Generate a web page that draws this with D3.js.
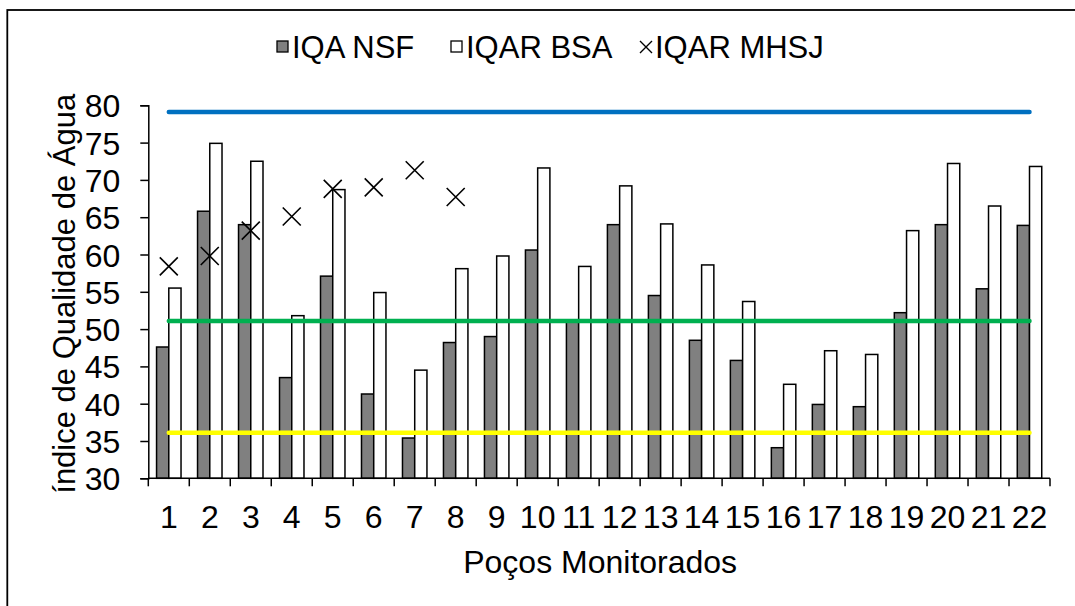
<!DOCTYPE html>
<html>
<head>
<meta charset="utf-8">
<script src="https://cdn.jsdelivr.net/npm/d3@7"></script>
<style>
  html, body { margin: 0; padding: 0; background: #fff; }
  svg { display: block; font-family: "Liberation Sans", Arial, sans-serif; }
</style>
</head>
<body>
<svg id="chart" width="1075" height="606"></svg>
<script>
// Poços monitorados (categorias do eixo X)
const pocos = ["1","2","3","4","5","6","7","8","9","10","11","12","13","14","15","16","17","18","19","20","21","22"];

// IQA NSF por poço
const iqaNsf = [47.6, 65.8, 64.0, 43.5, 57.1, 41.3, 35.4, 48.2, 49.0, 60.6, 51.2, 64.0,
                54.5, 48.5, 45.8, 34.1, 39.9, 39.6, 52.2, 64.0, 55.4, 63.9];

// IQAR BSA por poço
const iqarBsa = [55.5, 74.9, 72.5, 51.8, 68.7, 54.9, 44.5, 58.1, 59.8, 71.6, 58.4, 69.2,
                 64.1, 58.6, 53.7, 42.6, 47.1, 46.6, 63.2, 72.2, 66.5, 71.8];

// IQAR MHSJ (apenas os poços 1 a 8)
const iqarMhsj = [58.4, 59.8, 63.2, 65.1, 68.8, 69.0, 71.3, 67.7];

// Limites das faixas de classificação
const limites = [79.1, 51.1, 36.1];
const coresLimites = ["#0070C0", "#00B050", "#FFFF00"];

// Marcas do eixo Y
const ticksY = [30, 35, 40, 45, 50, 55, 60, 65, 70, 75, 80];

const legenda = ["IQA NSF", "IQAR BSA", "IQAR MHSJ"];

const svg = d3.select("#chart");
const FS = 32;            // tamanho da fonte dos eixos
const FS_LEG = 31;        // tamanho da fonte da legenda e do título vertical

const margin = { left: 148.3, right: 1050, top: 105.3, bottom: 478.3 };

// moldura externa
svg.append("rect")
  .attr("x", 7.3).attr("y", 10)
  .attr("width", 1200).attr("height", 800)
  .attr("fill", "none").attr("stroke", "#000").attr("stroke-width", 1.8);

const x = d3.scaleBand().domain(pocos).range([margin.left, margin.right]).paddingInner(0).paddingOuter(0);
const y = d3.scaleLinear().domain([30, 80]).range([margin.bottom, margin.top]);
const xs = d3.scaleBand().domain(["nsf", "bsa"]).range([0, x.bandwidth()]).paddingInner(0).paddingOuter(0.675);

// barras
const grupos = [
  { chave: "nsf", valores: iqaNsf, cor: "#808080" },
  { chave: "bsa", valores: iqarBsa, cor: "#ffffff" }
];
grupos.forEach(g => {
  svg.append("g").selectAll("rect")
    .data(g.valores)
    .join("rect")
    .attr("x", (d, i) => x(pocos[i]) + xs(g.chave))
    .attr("y", d => y(d))
    .attr("width", xs.bandwidth())
    .attr("height", d => y(30) - y(d))
    .attr("fill", g.cor)
    .attr("stroke", "#000")
    .attr("stroke-width", 1.5);
});

// linhas de limite
const linha = d3.line().x(d => d[0]).y(d => d[1]);
limites.forEach((v, k) => {
  svg.append("path")
    .attr("d", linha(pocos.map(p => [x(p) + x.bandwidth() / 2, y(v)])))
    .attr("fill", "none")
    .attr("stroke", coresLimites[k])
    .attr("stroke-width", 4.5)
    .attr("stroke-linecap", "round");
});

// marcadores IQAR MHSJ
const cruz = (cx, cy, r) => `M${cx - r},${cy - r}L${cx + r},${cy + r}M${cx - r},${cy + r}L${cx + r},${cy - r}`;
svg.append("g").selectAll("path")
  .data(iqarMhsj)
  .join("path")
  .attr("d", (d, i) => cruz(x(pocos[i]) + x.bandwidth() / 2, y(d), 9))
  .attr("stroke", "#000").attr("stroke-width", 1.6).attr("fill", "none");

// eixo Y
const eixoY = svg.append("g")
  .attr("transform", `translate(${margin.left},0)`)
  .call(d3.axisLeft(y).tickValues(ticksY).tickSize(8).tickPadding(20).tickFormat(d3.format("d")));
eixoY.select(".domain").attr("stroke", "#000").attr("stroke-width", 1.5);
eixoY.selectAll(".tick line").attr("stroke", "#000").attr("stroke-width", 1.5);
eixoY.selectAll(".tick text")
  .attr("dy", "0.36em")
  .attr("font-size", FS).attr("fill", "#000")
  .attr("font-family", "Liberation Sans, Arial, sans-serif");

// eixo X
const eixoX = svg.append("g")
  .attr("transform", `translate(0,${margin.bottom})`)
  .call(d3.axisBottom(x).tickSize(0).tickPadding(0));
eixoX.select(".domain").attr("stroke", "#000").attr("stroke-width", 1.5)
  .attr("d", `M${margin.left},0H${margin.right}`);
eixoX.selectAll(".tick text")
  .attr("y", 50).attr("dy", 0)
  .attr("font-size", FS).attr("fill", "#000")
  .attr("font-family", "Liberation Sans, Arial, sans-serif");
// marcas entre categorias
eixoX.append("g").selectAll("line")
  .data(pocos.concat(["fim"]))
  .join("line")
  .attr("x1", (d, i) => i < pocos.length ? x(d) : margin.right)
  .attr("x2", (d, i) => i < pocos.length ? x(d) : margin.right)
  .attr("y1", 0).attr("y2", 8)
  .attr("stroke", "#000").attr("stroke-width", 1.5);

// títulos dos eixos
svg.append("text")
  .attr("transform", `translate(${(margin.left + margin.right) / 2 + 1},573)`)
  .attr("text-anchor", "middle")
  .attr("font-size", FS)
  .text("Poços Monitorados");

svg.append("text")
  .attr("transform", `translate(75,${(margin.top + margin.bottom) / 2 + 2}) rotate(-90)`)
  .attr("text-anchor", "middle")
  .attr("font-size", FS_LEG)
  .text("índice de Qualidade de Água");

// legenda
const leg = svg.append("g");
const legX = [277, 451, 640];
legenda.forEach((nome, i) => {
  const gx = legX[i];
  if (i < 2) {
    leg.append("rect")
      .attr("x", gx).attr("y", 41).attr("width", 11).attr("height", 11)
      .attr("fill", grupos[i].cor).attr("stroke", "#000").attr("stroke-width", 1.3);
  } else {
    leg.append("path").attr("d", cruz(gx + 6, 47, 6))
      .attr("stroke", "#000").attr("stroke-width", 1.4);
  }
  leg.append("text")
    .attr("x", gx + 15).attr("y", 58)
    .attr("font-size", FS_LEG)
    .text(nome);
});
</script>
</body>
</html>
